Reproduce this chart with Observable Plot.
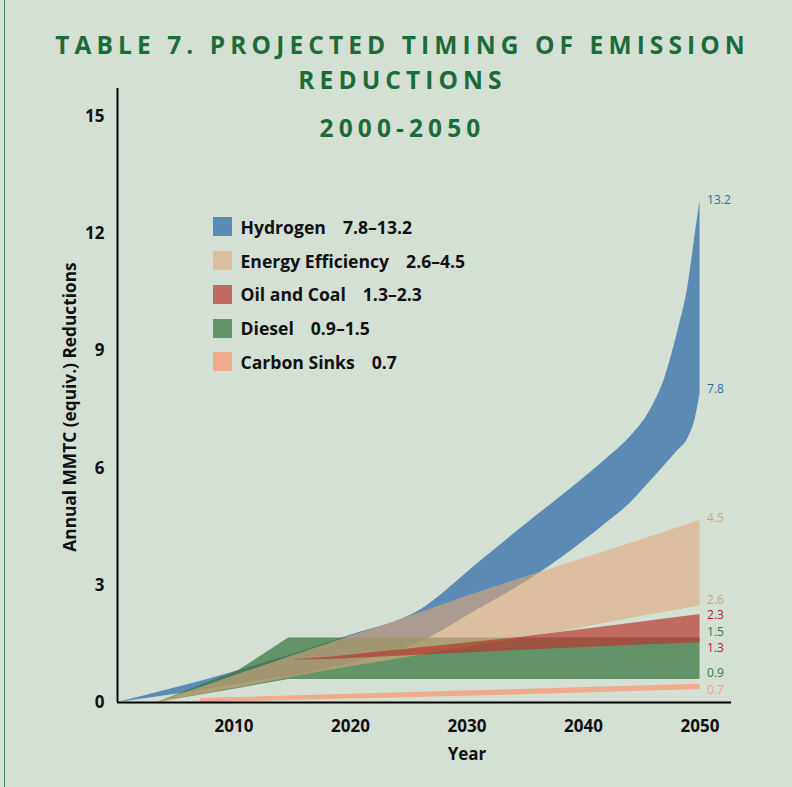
<!DOCTYPE html>
<html><head><meta charset="utf-8">
<script src="https://cdn.jsdelivr.net/npm/d3@7"></script>
<script src="https://cdn.jsdelivr.net/npm/@observablehq/plot@0.6"></script>
<style>
html,body{margin:0;padding:0;background:#d5e0d5;}
#wrap{position:relative;width:792px;height:787px;overflow:hidden;font-family:"Open Sans",sans-serif;background:#d5e0d5;}
#wrap svg{position:absolute;left:0;top:0;background:transparent;}
.border{position:absolute;left:4px;top:0;width:1px;height:787px;background:#3f8f50;}
.ttl{position:absolute;left:0;width:792px;text-align:center;color:#1d6b39;font-weight:700;font-size:24.5px;letter-spacing:5.1px;padding-left:13px;box-sizing:border-box;line-height:30px;white-space:nowrap;}
.leg{position:absolute;left:212.5px;top:210px;}
.row{display:flex;align-items:center;height:33.75px;font-weight:700;font-size:17.6px;color:#111;white-space:nowrap;}
.sw{width:19px;height:19px;margin-right:9px;}
.val{margin-left:17px;}
.ylab{position:absolute;left:69px;top:407px;transform:translate(-50%,-50%) rotate(-90deg);font-weight:700;font-size:17.3px;color:#111;white-space:nowrap;}
.xlab{position:absolute;left:467px;top:753px;transform:translate(-50%,-50%);font-weight:700;font-size:17px;color:#111;}
</style>
</head><body>
<div id="wrap"></div>
<script>
// ---- data ----
const hydrogenYears = [2000, 2010, 2020, 2026, 2031, 2035, 2039, 2042, 2044, 2045.7, 2047, 2048.1, 2049, 2049.55, 2050];
const hydrogenHigh  = [0, 0.78, 1.72, 2.37, 3.58, 4.55, 5.5, 6.25, 6.8, 7.47, 8.33, 9.52, 10.72, 11.91, 12.85];
const hydrogenLow   = [0, 0.45, 1.0, 1.55, 2.39, 3.08, 3.9, 4.6, 5.1, 5.65, 6.08, 6.45, 6.78, 7.22, 7.9];

const efficiencyYears = [2003.4, 2010, 2018, 2026, 2030, 2036, 2044, 2050];
const efficiencyLow   = [0, 0.36, 0.81, 1.21, 1.42, 1.7, 2.15, 2.47];
const efficiencyHigh  = [0, 0.68, 1.49, 2.3, 2.72, 3.3, 4.07, 4.66];

const dieselYears = [2003.4, 2010.4, 2014.7, 2050];
const dieselLow   = [0, 0.36, 0.59, 0.59];
const dieselHigh  = [0, 0.82, 1.65, 1.65];

const oilCoalYears = [2014.9, 2018.2, 2025, 2034.2, 2044, 2050];
const oilCoalLow   = [1.09, 1.1, 1.2, 1.33, 1.46, 1.53];
const oilCoalHigh  = [1.09, 1.16, 1.37, 1.65, 2.02, 2.25];

const sinksYears = [2007.1, 2032.7, 2050];
const sinksLow   = [0, 0.18, 0.33];
const sinksHigh  = [0.1, 0.32, 0.47];

const legendNames  = ["Hydrogen", "Energy Efficiency", "Oil and Coal", "Diesel", "Carbon Sinks"];
const legendRanges = ["7.8–13.2", "2.6–4.5", "1.3–2.3", "0.9–1.5", "0.7"];
const endLabels    = ["13.2", "7.8", "4.5", "2.6", "2.3", "1.5", "1.3", "0.9", "0.7"];
const xTicks = [2010, 2020, 2030, 2040, 2050];
const yTicks = [0, 3, 6, 9, 12, 15];

// ---- build tables ----
const table = (years, low, high) => years.map((year, i) => ({year, low: low[i], high: high[i]}));
const hydrogen = table(hydrogenYears, hydrogenLow, hydrogenHigh);
const efficiency = table(efficiencyYears, efficiencyLow, efficiencyHigh);
const diesel = table(dieselYears, dieselLow, dieselHigh);
const oilCoal = table(oilCoalYears, oilCoalLow, oilCoalHigh);
const sinks = table(sinksYears, sinksLow, sinksHigh);

// ---- styles ----
const bg = [213, 224, 213];
const pure = {blue: [91, 139, 180], beige: [219, 191, 158], red: [192, 106, 96], green: [99, 147, 105], sink: [240, 170, 140]};
const rgb = c => `rgb(${c.map(v => Math.max(0, Math.min(255, Math.round(v)))).join(",")})`;
const tint = (c, a) => rgb(c.map((v, i) => (v - (1 - a) * bg[i]) / a));
const labelColors = {blue: "#2a6fa6", tan: "#c9a77c", crimson: "#b3173f", green: "#2e7b40", salmon: "#f09f7c"};

const last = arr => arr[arr.length - 1];
const labelSpec = [
  {v: last(hydrogenHigh), c: labelColors.blue, dy: 0},
  {v: last(hydrogenLow), c: labelColors.blue, dy: -5},
  {v: last(efficiencyHigh), c: labelColors.tan, dy: -2},
  {v: last(efficiencyLow), c: labelColors.tan, dy: -6.2},
  {v: last(oilCoalHigh), c: labelColors.crimson, dy: 0.8},
  {v: last(dieselHigh), c: labelColors.green, dy: -6.2},
  {v: last(oilCoalLow), c: labelColors.crimson, dy: 5.2},
  {v: last(dieselLow), c: labelColors.green, dy: -6.3},
  {v: last(sinksHigh), c: labelColors.salmon, dy: 5.6}
];

const areaOpts = (fill, fillOpacity, curve) => ({x: "year", y1: "low", y2: "high", fill, fillOpacity, curve});

const chart = Plot.plot({
  width: 792, height: 787,
  marginTop: 88, marginBottom: 85, marginLeft: 117, marginRight: 61,
  style: {background: "transparent", fontFamily: "Open Sans, sans-serif", overflow: "visible"},
  x: {domain: [2000, 2052.7]},
  y: {domain: [0, 15.72]},
  marks: [
    Plot.areaY(hydrogen, areaOpts(rgb(pure.blue), 1, "monotone-x")),
    Plot.areaY(diesel, areaOpts(tint(pure.green, 0.72), 0.72, "linear")),
    Plot.areaY(efficiency, areaOpts(tint(pure.beige, 0.6), 0.6, "monotone-x")),
    Plot.areaY(oilCoal, areaOpts(tint(pure.red, 0.7), 0.7, "linear")),
    Plot.areaY(sinks, areaOpts(rgb(pure.sink), 1, "linear")),
    ...labelSpec.map((s, i) => Plot.text([s], {x: () => 2050, y: d => d.v, text: () => endLabels[i], fill: s.c, dx: 7, dy: s.dy, textAnchor: "start", fontSize: 12})),
    Plot.axisX({ticks: xTicks, tickFormat: d => String(d), tickSize: 0, tickPadding: 17, fontSize: 17, fontWeight: 700, fill: "#111", label: null}),
    Plot.axisY({ticks: yTicks, tickSize: 0, tickPadding: 13, fontSize: 17, fontWeight: 700, fill: "#111", label: null}),
    Plot.ruleY([0], {stroke: "#000", strokeWidth: 2}),
    Plot.ruleX([2000], {stroke: "#000", strokeWidth: 2})
  ]
});

const wrap = document.getElementById("wrap");
wrap.appendChild(chart);

const border = document.createElement("div"); border.className = "border"; wrap.appendChild(border);

const titleLines = [
  {text: "TABLE 7. PROJECTED TIMING OF EMISSION", y: 45},
  {text: "REDUCTIONS", y: 80},
  {text: "2000-2050", y: 128}
];
for (const t of titleLines) {
  const d = document.createElement("div");
  d.className = "ttl"; d.textContent = t.text;
  d.style.top = (t.y - 15) + "px";
  wrap.appendChild(d);
}

const legColors = [pure.blue, pure.beige, pure.red, pure.green, pure.sink];
const leg = document.createElement("div"); leg.className = "leg";
legendNames.forEach((n, i) => {
  const r = document.createElement("div"); r.className = "row";
  const sw = document.createElement("div"); sw.className = "sw"; sw.style.background = rgb(legColors[i]);
  const a = document.createElement("span"); a.textContent = n;
  const b = document.createElement("span"); b.className = "val"; b.textContent = legendRanges[i];
  r.append(sw, a, b); leg.appendChild(r);
});
wrap.appendChild(leg);

const yl = document.createElement("div"); yl.className = "ylab"; yl.textContent = "Annual MMTC (equiv.) Reductions"; wrap.appendChild(yl);
const xl = document.createElement("div"); xl.className = "xlab"; xl.textContent = "Year"; wrap.appendChild(xl);
</script>
</body></html>
